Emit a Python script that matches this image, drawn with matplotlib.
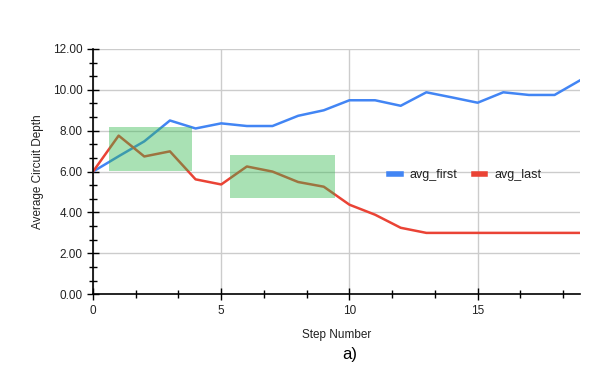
import matplotlib.pyplot as plt
from matplotlib.ticker import MultipleLocator, FormatStrFormatter
from matplotlib.patches import Rectangle
from matplotlib.lines import Line2D

plt.rcParams['font.family'] = ['Liberation Sans', 'DejaVu Sans']

steps = list(range(20))
avg_first = [6.0, 6.75, 7.48, 8.5, 8.11, 8.36, 8.23, 8.23, 8.73, 9.0,
             9.49, 9.49, 9.22, 9.88, 9.63, 9.37, 9.88, 9.75, 9.75, 10.47]
avg_last = [6.0, 7.76, 6.74, 6.99, 5.62, 5.37, 6.25, 6.0, 5.49, 5.26,
            4.38, 3.89, 3.25, 3.0, 3.0, 3.0, 3.0, 3.0, 3.0, 3.0]
# highlighted regions: (x0, x1, y0, y1)
boxes = [(0.64, 3.85, 6.04, 8.2), (5.34, 9.43, 4.69, 6.82)]

fig = plt.figure(figsize=(6, 3.71), dpi=100)
ax = fig.add_axes([0.155, 0.207, 0.812, 0.661])

ax.plot(steps, avg_first, color='#4285f4', lw=1.8, label='avg_first', zorder=3)
ax.plot(steps, avg_last, color='#ea4335', lw=1.8, label='avg_last', zorder=3)

for x0, x1, y0, y1 in boxes:
    ax.add_patch(Rectangle((x0, y0), x1 - x0, y1 - y0, facecolor='#34b84e',
                           alpha=0.42, edgecolor='none', zorder=4))

ax.set_xlim(0, 19)
ax.set_ylim(0, 12)
ax.xaxis.set_major_locator(MultipleLocator(5))
ax.xaxis.set_minor_locator(MultipleLocator(5 / 3))
ax.yaxis.set_major_locator(MultipleLocator(2))
ax.yaxis.set_minor_locator(MultipleLocator(2 / 3))
ax.yaxis.set_major_formatter(FormatStrFormatter('%.2f'))
ax.grid(True, which='major', color='#cccccc', lw=1, zorder=0)
ax.set_axisbelow(True)

for s in ['top', 'right']:
    ax.spines[s].set_visible(False)
for s in ['left', 'bottom']:
    ax.spines[s].set_color('black')
    ax.spines[s].set_linewidth(1.2)
    ax.spines[s].set_zorder(5)

ax.tick_params(which='major', direction='inout', length=9, width=1,
               labelsize=8.5, colors='black', labelcolor='#222222', pad=3)
ax.tick_params(which='minor', direction='inout', length=6, width=1, colors='black')

ax.set_ylabel('Average Circuit Depth', fontsize=8.5, color='#222222', labelpad=6)
ax.set_xlabel('Step Number', fontsize=8.5, color='#222222', labelpad=9)
fig.text(0.5833, 1 - 354 / 371, 'a)', fontsize=12, ha='center', va='center',
         color='black')

handles = [Line2D([], [], color='#4285f4', lw=4),
           Line2D([], [], color='#ea4335', lw=4)]
fig.legend(handles, ['avg_first', 'avg_last'], ncol=2, frameon=False,
           loc='center', bbox_to_anchor=(0.775, 0.528), fontsize=9,
           handlelength=0.95, handletextpad=0.7, columnspacing=1.3,
           labelcolor='#222222')

fig.savefig('out.png', dpi=100)
